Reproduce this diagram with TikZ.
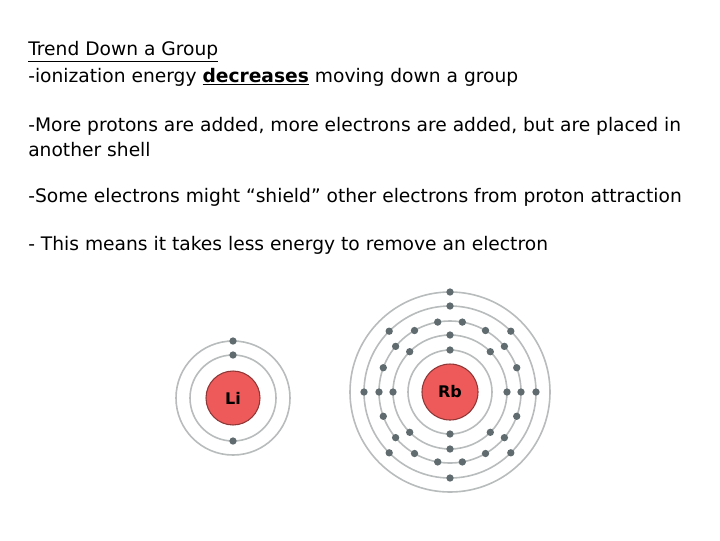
\documentclass[tikz,border=0pt]{standalone}
\usepackage{fontspec}
\setmainfont{DejaVu Sans}
\usetikzlibrary{calc}
\definecolor{nuc}{HTML}{EE5A5A}
\definecolor{shell}{HTML}{B8BCBC}
\definecolor{elec}{HTML}{5F6B6E}
\begin{document}
\begin{tikzpicture}[x=0.75pt,y=-0.75pt,
  txt/.style={anchor=west,inner sep=0pt,font=\fontsize{14}{16}\selectfont},
  orb/.style={draw=shell,line width=1.2pt},
  el/.style={fill=elec,circle,inner sep=0pt,minimum size=5.5pt},
  nucleus/.style={circle,fill=nuc,draw=nuc!60!black,line width=0.8pt,font=\bfseries\fontsize{12}{14}\selectfont}]
\useasboundingbox (0,0) rectangle (720,540);
\node[txt] (t1) at (28,52) {\underline{Trend Down a Group}};
\node[txt] (t2) at (28,77) {-ionization energy \underline{\textbf{decreases}} moving down a group};
\node[txt] (t3) at (28,126) {-More protons are added, more electrons are added, but are placed in};
\node[txt] (t4) at (28,150) {another shell};
\node[txt] (t5) at (28,197) {-Some electrons might “shield” other electrons from proton attraction};
\node[txt] (t6) at (28,245) {- This means it takes less energy to remove an electron};
% Li
\coordinate (li) at (233,398);
\foreach \r in {43,57} \draw[orb] (li) circle[radius=\r];
\node[nucleus,minimum size=54*0.75pt] (linuc) at (li) {Li};
\node[el] (le1) at ($(li)+(0,-43)$) {};
\node[el] (le2) at ($(li)+(0,43)$) {};
\node[el] (le3) at ($(li)+(0,-57)$) {};
% Rb
\coordinate (rb) at (450,392);
\foreach \r in {42,57,71,86,100} \draw[orb] (rb) circle[radius=\r];
\node[nucleus,minimum size=56*0.75pt] (rbnuc) at (rb) {Rb};
\foreach \a in {90,270} \node[el] at ($(rb)+(\a:42)$) {};
\foreach \a in {0,45,...,315} \node[el] at ($(rb)+(\a:57)$) {};
\foreach \a in {0,20,...,340} \node[el] at ($(rb)+(\a:71)$) {};
\foreach \a in {0,45,...,315} \node[el] at ($(rb)+(\a:86)$) {};
\node[el] at ($(rb)+(-90:100)$) {};
\end{tikzpicture}
\end{document}
